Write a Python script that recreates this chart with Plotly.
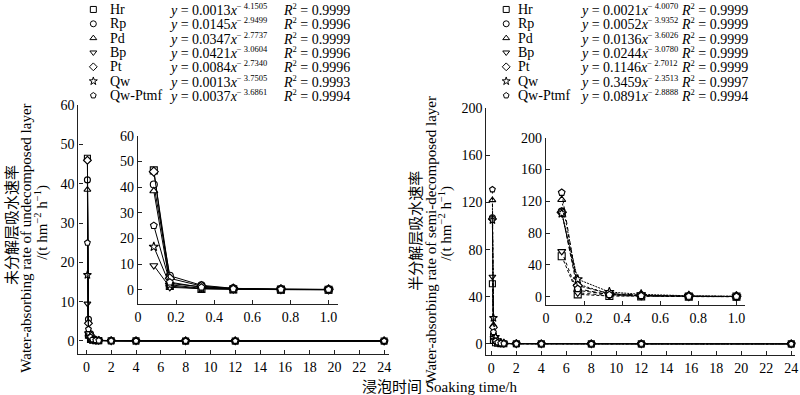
import plotly.graph_objects as go

# ---------------- data ----------------
times = [0.083, 0.167, 0.333, 0.5, 0.75, 1, 2, 4, 8, 12, 24]
series_names = ["Hr", "Rp", "Pd", "Bp", "Pt", "Qw", "Qw-Ptmf"]
symbols = ["square", "circle", "triangle-up", "triangle-down", "diamond", "star", "pentagon"]

# undecomposed layer (t hm-2 h-1)
und_hr = [46.5, 1.5, 0.4, 0.2, 0.10, 0.08, 0.04, 0.02, 0.01, 0.01, 0.00]
und_rp = [41.0, 5.5, 1.8, 0.6, 0.30, 0.20, 0.08, 0.04, 0.02, 0.01, 0.00]
und_pd = [38.5, 2.5, 1.2, 0.5, 0.20, 0.15, 0.06, 0.03, 0.02, 0.01, 0.00]
und_bp = [9.5, 1.0, 0.5, 0.3, 0.15, 0.10, 0.05, 0.02, 0.01, 0.01, 0.00]
und_pt = [46.0, 4.5, 1.5, 0.5, 0.25, 0.15, 0.06, 0.03, 0.02, 0.01, 0.00]
und_qw = [16.8, 2.0, 0.6, 0.3, 0.15, 0.10, 0.04, 0.02, 0.01, 0.01, 0.00]
und_qwp = [25.0, 3.0, 1.0, 0.4, 0.20, 0.12, 0.05, 0.02, 0.01, 0.01, 0.00]

# semi-decomposed layer (t hm-2 h-1)
semi_hr = [51.0, 3.0, 1.0, 0.5, 0.20, 0.10, 0.05, 0.02, 0.01, 0.01, 0.00]
semi_rp = [107.0, 8.0, 3.0, 1.5, 0.60, 0.30, 0.10, 0.05, 0.02, 0.01, 0.00]
semi_pd = [122.0, 16.0, 3.5, 1.5, 0.60, 0.30, 0.10, 0.05, 0.02, 0.01, 0.00]
semi_bp = [57.0, 5.0, 1.5, 0.8, 0.30, 0.15, 0.06, 0.03, 0.01, 0.01, 0.00]
semi_pt = [106.0, 14.0, 4.0, 2.0, 0.80, 0.40, 0.15, 0.06, 0.03, 0.02, 0.01]
semi_qw = [105.0, 22.0, 6.0, 3.0, 1.20, 0.60, 0.20, 0.10, 0.05, 0.03, 0.01]
semi_qwp = [131.0, 10.0, 2.5, 1.2, 0.50, 0.25, 0.10, 0.04, 0.02, 0.01, 0.00]

und_values = [und_hr, und_rp, und_pd, und_bp, und_pt, und_qw, und_qwp]
semi_values = [semi_hr, semi_rp, semi_pd, semi_bp, semi_pt, semi_qw, semi_qwp]

# fitted equations
und_coef = ["0.0013", "0.0145", "0.0347", "0.0421", "0.0084", "0.0013", "0.0037"]
und_exp = ["4.1505", "2.9499", "2.7737", "3.0604", "2.7340", "3.7505", "3.6861"]
und_r2 = ["0.9999", "0.9996", "0.9999", "0.9996", "0.9996", "0.9993", "0.9994"]
semi_coef = ["0.0021", "0.0052", "0.0136", "0.0244", "0.1146", "0.3459", "0.0891"]
semi_exp = ["4.0070", "3.9352", "3.6026", "3.0780", "2.7012", "2.3513", "2.8888"]
semi_r2 = ["0.9999", "0.9999", "0.9999", "0.9999", "0.9999", "0.9997", "0.9994"]

main_xticks = list(range(0, 25, 2))
inset_xticks = [0, 0.2, 0.4, 0.6, 0.8, 1.0]
inset_xtext = ["0", "0.2", "0.4", "0.6", "0.8", "1.0"]
und_yticks = [0, 10, 20, 30, 40, 50, 60]
semi_yticks = [0, 40, 80, 120, 160, 200]

# ---------------- figure ----------------
W, H = 800, 395
SERIF = "Liberation Serif, Times New Roman, serif"
CJK = "Noto Sans CJK SC"
fig = go.Figure()

semi_dashes = ["3px,2px", "4px,2px", "2px,2px", "3px,3px", "5px,2px", "2px,1px", "4px,3px"]

def add_series(values, xa, ya, dashes, msize, xmax=None):
    for i, name in enumerate(series_names):
        xs, ys = [], []
        for t, v in zip(times, values[i]):
            if xmax is None or t <= xmax:
                xs.append(t)
                ys.append(v)
        fig.add_trace(go.Scatter(
            x=xs, y=ys, mode="lines+markers", name=name, showlegend=False,
            xaxis=xa, yaxis=ya,
            line=dict(color="black", width=1, dash=dashes[i] if dashes else "solid"),
            marker=dict(symbol=symbols[i], size=msize, color="white",
                        line=dict(color="black", width=1.1)),
            cliponaxis=False))

add_series(und_values, "x", "y", None, 6)
add_series(und_values, "x2", "y2", None, 7, xmax=1.0)
add_series(semi_values, "x3", "y3", semi_dashes, 6)
add_series(semi_values, "x4", "y4", semi_dashes, 7, xmax=1.0)

# legend keys (overlay axis in pixel units)
row_y = [2.5 + 14.6 * i for i in range(len(series_names))]
for lx in (90, 506):
    for i, name in enumerate(series_names):
        fig.add_trace(go.Scatter(
            x=[lx], y=[row_y[i]], mode="markers", showlegend=False,
            xaxis="x5", yaxis="y5", hoverinfo="skip", cliponaxis=False,
            marker=dict(symbol=symbols[i], size=6, color="white",
                        line=dict(color="black", width=1))))

annotations = []
def txt(x, y, text, size=14, family=SERIF, angle=0):
    annotations.append(dict(x=x, y=y, xref="x5", yref="y5", text=text, showarrow=False,
                            xanchor="center", yanchor="middle", textangle=angle,
                            font=dict(family=family, size=size, color="black")))

# approximate Times glyph widths (em) to centre legend names on their left edge
EM = {"H": .722, "r": .333, "R": .667, "p": .5, "P": .556, "d": .5, "B": .667,
      "t": .278, "Q": .722, "w": .722, "-": .333, "m": .778, "f": .333}
def name_w(s, size=14):
    return sum(EM.get(c, .5) for c in s) * size

SUP = "<sup><span style='font-size:8.5px'>%s</span></sup>"
for (nx, ecx, rcx, coefs, exps, r2s) in ((107, 216, 315, und_coef, und_exp, und_r2),
                                          (518, 630, 716, semi_coef, semi_exp, semi_r2)):
    for i, name in enumerate(series_names):
        txt(nx + name_w(name) / 2, row_y[i], name)
        txt(ecx, row_y[i], "<i>y</i> = %s<i>x</i>" % coefs[i] + SUP % ("− " + exps[i]))
        txt(rcx, row_y[i], "<i>R</i>" + SUP % "2" + " = %s" % r2s[i])

unit = "/(t hm<sup>−2</sup> h<sup>−1</sup>)"
txt(6, 222, "未分解层吸水速率", size=15, family=CJK, angle=-90)
txt(22, 235, "Water-absorbing rate of undecomposed layer", size=15, angle=-90)
txt(37, 219, unit, size=15, angle=-90)
txt(414, 228, "半分解层吸水速率", size=15, family=CJK, angle=-90)
txt(430, 237, "Water-absorbing rate of semi-decomposed layer", size=15, angle=-90)
txt(444, 220, unit, size=15, angle=-90)
annotations.append(dict(x=439, y=385, xref="x5", yref="y5", showarrow=False,
                        text="<span style='font-family:Noto Sans CJK SC'>浸泡时间</span> Soaking time/h",
                        xanchor="center", yanchor="middle",
                        font=dict(family=SERIF, size=15, color="black")))

def px_dom(a, b, total):
    return [a / total, b / total]

def ydom(top, bottom):
    return [1 - bottom / H, 1 - top / H]

axis_common = dict(showline=True, linecolor="#222", linewidth=1.2, ticks="inside",
                   ticklen=4, tickwidth=1.1, tickcolor="#222", showgrid=False,
                   zeroline=False, tickfont=dict(family=SERIF, size=14, color="black"))

fig.update_layout(
    width=W, height=H, margin=dict(l=0, r=0, t=0, b=0),
    paper_bgcolor="white", plot_bgcolor="rgba(0,0,0,0)", showlegend=False,
    xaxis=dict(domain=px_dom(75, 388, W), range=[-0.64, 24.4], anchor="y",
               tickvals=main_xticks, **axis_common),
    yaxis=dict(domain=ydom(100, 353), range=[-3.25, 60], anchor="x",
               tickvals=und_yticks, **axis_common),
    xaxis2=dict(domain=px_dom(135, 337, W), range=[0, 1.052], anchor="y2",
                tickvals=inset_xticks, ticktext=inset_xtext, **axis_common),
    yaxis2=dict(domain=ydom(131, 302), range=[-5.35, 60], anchor="x2",
                tickvals=und_yticks, **axis_common),
    xaxis3=dict(domain=px_dom(486, 797, W), range=[-0.4, 24.3], anchor="y3",
                tickvals=main_xticks, **axis_common),
    yaxis3=dict(domain=ydom(103, 354), range=[-9.2, 200], anchor="x3",
                tickvals=semi_yticks, **axis_common),
    xaxis4=dict(domain=px_dom(546, 747, W), range=[0, 1.047], anchor="y4",
                tickvals=inset_xticks, ticktext=inset_xtext, **axis_common),
    yaxis4=dict(domain=ydom(133, 303), range=[-9.9, 200], anchor="x4",
                tickvals=semi_yticks, **axis_common),
    xaxis5=dict(domain=[0, 1], range=[0, W], visible=False, anchor="y5", fixedrange=True),
    yaxis5=dict(domain=[0, 1], range=[H, 0], visible=False, anchor="x5", fixedrange=True),
    annotations=annotations,
)

fig.write_html("out.html", config={"displayModeBar": False},
               post_script="document.body.style.margin='0';document.body.style.overflow='hidden';")
